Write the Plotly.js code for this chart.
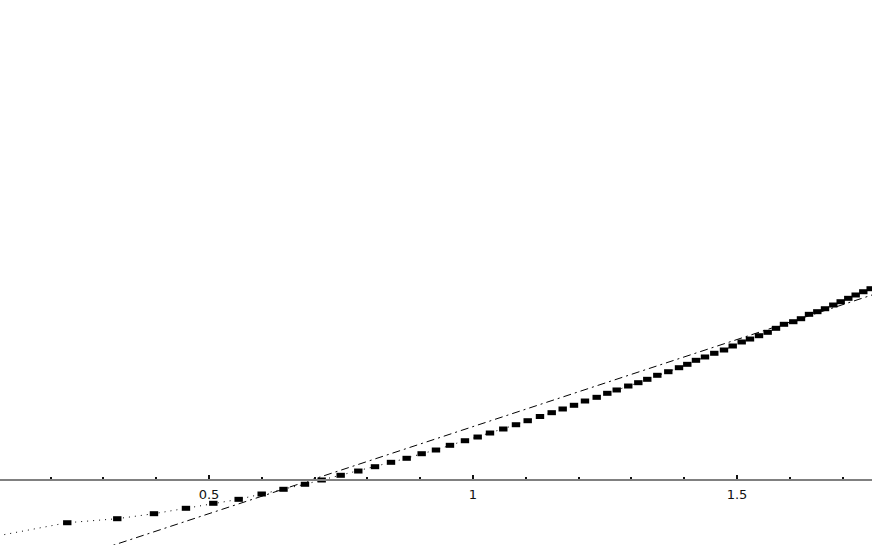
<!DOCTYPE html>
<html>
<head>
<meta charset="utf-8">
<script src="https://cdn.plot.ly/plotly-3.0.1.min.js"></script>
<style>html,body{margin:0;padding:0;background:#fff;}#chart{width:872px;height:545px;}</style>
</head>
<body>
<div id="chart"></div>
<script>
// Square-marker series (dotted connector)
const seriesX = [0.090, 0.2316, 0.3263, 0.3958, 0.4564, 0.5082, 0.5562, 0.5998, 0.6411, 0.6818, 0.7134,
  0.7494, 0.7828, 0.8144, 0.8447, 0.8744, 0.9028, 0.9299, 0.9564, 0.9848, 1.0089,
  1.0322, 1.0574, 1.0814, 1.1036, 1.1269, 1.1491, 1.1699, 1.1913, 1.2121, 1.2343,
  1.2544, 1.2722, 1.2941, 1.3131, 1.3301, 1.3491, 1.3699, 1.3902, 1.4059, 1.4223,
  1.4394, 1.4570, 1.4754, 1.4919, 1.5089, 1.5246, 1.5417, 1.5581, 1.5739, 1.5890,
  1.6066, 1.6212, 1.6364, 1.6521, 1.6667, 1.6824, 1.6964, 1.7108, 1.7248, 1.7392, 1.7532];
const seriesY = [-0.1076, -0.0809, -0.0733, -0.0638, -0.0536, -0.0441, -0.0366, -0.0265, -0.0176, -0.0081, 0.0000,
  0.0089, 0.0170, 0.0252, 0.0335, 0.0411, 0.0498, 0.0568, 0.0657, 0.0744, 0.0814,
  0.0890, 0.0966, 0.1047, 0.1123, 0.1203, 0.1275, 0.1345, 0.1415, 0.1496, 0.1566,
  0.1642, 0.1705, 0.1780, 0.1843, 0.1907, 0.1983, 0.2051, 0.2127, 0.2191, 0.2267,
  0.2330, 0.2400, 0.2462, 0.2538, 0.2614, 0.2670, 0.2733, 0.2797, 0.2873, 0.2949,
  0.2998, 0.3055, 0.3138, 0.3188, 0.3244, 0.3314, 0.3377, 0.3441, 0.3504, 0.3566, 0.3623];

// Dash-dot reference line
const refX = [0.20, 1.80];
const refY = [-0.1627, 0.3650];

// Axis ticks
const tickVals = [0.5, 1, 1.5];
const tickText = ['0.5', '1', '1.5'];

const traces = [
  {
    x: refX, y: refY, type: 'scatter', mode: 'lines',
    line: {color: '#000', width: 1, dash: '8px,4px,2px,4px'},
    hoverinfo: 'skip'
  },
  {
    x: seriesX, y: seriesY, type: 'scatter', mode: 'lines+markers',
    line: {color: '#000', width: 1, dash: '1px,5px'},
    marker: {symbol: 'line-ew', size: 6, color: '#000', line: {color: '#000', width: 5}},
    hoverinfo: 'skip'
  }
];

const layout = {
  width: 872, height: 545,
  margin: {l: 0, r: 0, t: 0, b: 0, pad: 0},
  paper_bgcolor: '#fff', plot_bgcolor: '#fff',
  showlegend: false,
  xaxis: {
    range: [0.1042, 1.7557],
    anchor: 'free', position: 65 / 545,
    showgrid: false, zeroline: false,
    showline: true, linecolor: '#808080', linewidth: 2,
    tickmode: 'array', tickvals: tickVals, ticktext: tickText,
    ticks: 'inside', ticklen: 4, tickwidth: 2, tickcolor: '#111',
    ticklabelstandoff: 2,
    tickfont: {family: 'DejaVu Sans, sans-serif', size: 13, color: '#111'},
    minor: {dtick: 0.1, tick0: 0, ticks: 'inside', ticklen: 2, tickwidth: 2, tickcolor: '#111', showgrid: false}
  },
  yaxis: {
    range: [-0.1231, 0.9091],
    visible: false, showgrid: false, zeroline: false
  }
};

Plotly.newPlot('chart', traces, layout, {staticPlot: true, displayModeBar: false});
</script>
</body>
</html>
